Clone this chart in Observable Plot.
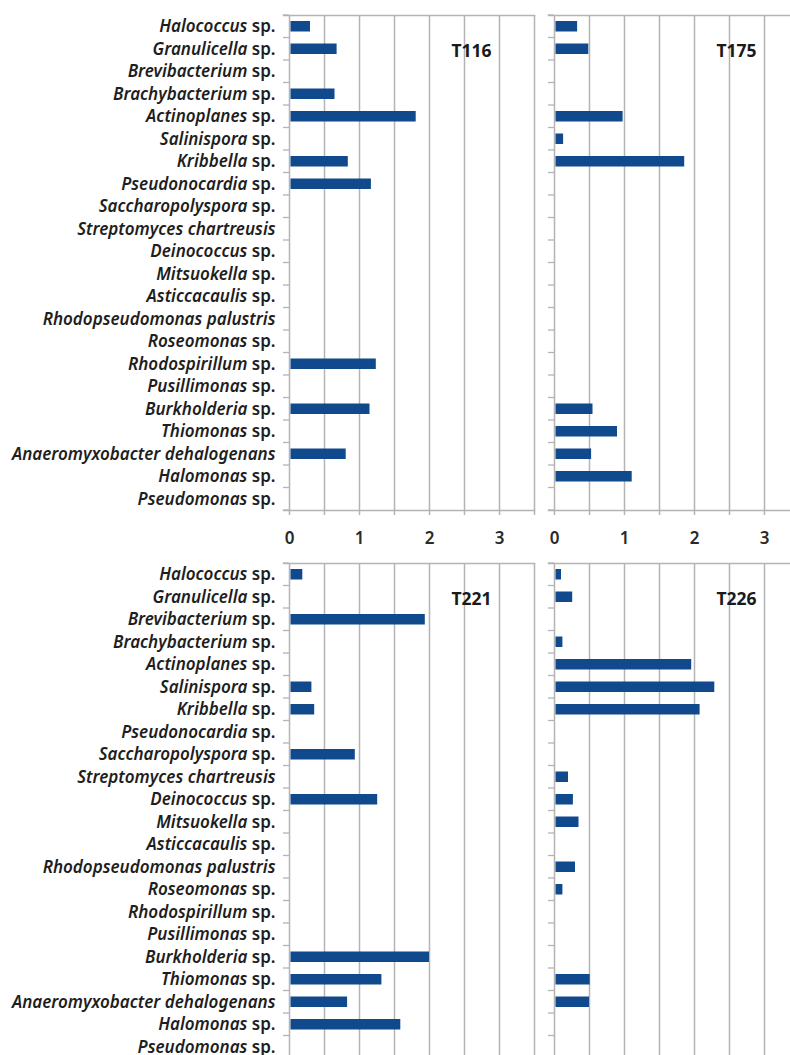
<!DOCTYPE html>
<html>
<head>
<meta charset="utf-8">
<script src="https://cdn.jsdelivr.net/npm/d3@7"></script>
<script src="https://cdn.jsdelivr.net/npm/@observablehq/plot@0.6"></script>
<style>
  html, body { margin: 0; padding: 0; background: #fff; overflow: hidden; }
  #chart { position: relative; width: 790px; height: 1055px; overflow: hidden; }
  #chart svg { position: absolute; overflow: visible; }
</style>
</head>
<body>
<div id="chart"></div>
<script>
// Taxa, listed top to bottom
const species = [
  "Halococcus sp.", "Granulicella sp.", "Brevibacterium sp.", "Brachybacterium sp.",
  "Actinoplanes sp.", "Salinispora sp.", "Kribbella sp.", "Pseudonocardia sp.",
  "Saccharopolyspora sp.", "Streptomyces chartreusis", "Deinococcus sp.", "Mitsuokella sp.",
  "Asticcacaulis sp.", "Rhodopseudomonas palustris", "Roseomonas sp.", "Rhodospirillum sp.",
  "Pusillimonas sp.", "Burkholderia sp.", "Thiomonas sp.", "Anaeromyxobacter dehalogenans",
  "Halomonas sp.", "Pseudomonas sp."
];

// Relative abundance per sample, same order as species
const t116 = [0.30, 0.68, 0, 0.65, 1.81, 0, 0.84, 1.17, 0, 0, 0, 0, 0, 0, 0, 1.24, 0, 1.15, 0, 0.81, 0, 0];
const t175 = [0.33, 0.49, 0, 0, 0.98, 0.13, 1.86, 0, 0, 0, 0, 0, 0, 0, 0, 0, 0, 0.55, 0.90, 0.53, 1.11, 0];
const t221 = [0.19, 0, 1.94, 0, 0, 0.32, 0.36, 0, 0.94, 0, 1.26, 0, 0, 0, 0, 0, 0, 2.00, 1.32, 0.83, 1.59, 0];
const t226 = [0.10, 0.26, 0, 0.12, 1.96, 2.29, 2.08, 0, 0, 0.20, 0.27, 0.35, 0, 0.30, 0.12, 0, 0, 0, 0.51, 0.50, 0, 0];

const xTicks = [0, 0.5, 1, 1.5, 2, 2.5, 3, 3.5];
const xLabelTicks = [0, 1, 2, 3];

// the lower row runs off the bottom of the page, so its value labels are left out
const panels = [
  {name: "T116", values: t116, left: 0,   top: 0,   labels: true,  xLabels: true},
  {name: "T175", values: t175, left: 540, top: 0,   labels: false, xLabels: true},
  {name: "T221", values: t221, left: 0,   top: 548, labels: true,  xLabels: false},
  {name: "T226", values: t226, left: 540, top: 548, labels: false, xLabels: false}
];

const BAR = "#104a8d";
const GRID = "#b4b4b4";
const FONT = "'Noto Sans', sans-serif";

// short ticks on the category boundaries, left of the value axis
function boundaryTicks(index, scales) {
  const g = d3.create("svg:g");
  const x0 = scales.x(0);
  const bw = scales.y.bandwidth ? scales.y.bandwidth() : 0;
  const edges = species.map(s => scales.y(s)).concat([scales.y(species[species.length - 1]) + bw]);
  g.selectAll("line").data(edges).join("line")
    .attr("x1", x0 - 6).attr("x2", x0)
    .attr("y1", d => d).attr("y2", d => d)
    .attr("stroke", GRID).attr("stroke-width", 1.3);
  return g.node();
}

function panel(p) {
  const data = species.map((s, i) => ({species: s, value: p.values[i]}));
  const ml = p.labels ? 289 : 14;
  const plot = Plot.plot({
    width: ml + 245 + 20,
    height: 15 + 495 + 45,
    marginLeft: ml,
    marginRight: 20,
    marginTop: 15,
    marginBottom: 45,
    style: {fontFamily: FONT, background: "transparent"},
    x: {domain: [0, 3.5], axis: null},
    y: {domain: species, padding: 0, round: false, axis: null},
    marks: [
      // grid lines every 0.5, running a few pixels past the bottom edge as ticks
      Plot.gridX(xTicks, {stroke: GRID, strokeOpacity: 1, strokeWidth: 1.5, insetBottom: -5}),
      p.xLabels ? Plot.axisX(xLabelTicks, {
        anchor: "bottom", tickSize: 0, label: null, tickPadding: 21,
        fontSize: 17, fontWeight: 600, fill: "#2a2a2a"
      }) : null,
      Plot.frame({anchor: "top", stroke: GRID, strokeWidth: 1.5, insetLeft: -6}),
      Plot.frame({anchor: "bottom", stroke: GRID, strokeWidth: 1.5, insetLeft: -6}),
      boundaryTicks,
      p.labels ? Plot.axisY({
        tickSize: 0, tickPadding: 14, fontSize: 17, fontWeight: 600, label: null,
        fill: "#1e1e1e", fontStyle: "italic"
      }) : null,
      Plot.barX(data, {y: "species", x: "value", fill: BAR, insetTop: 6, insetBottom: 6, insetLeft: 1.5}),
      Plot.text([p.name], {
        x: () => 2.6, y: () => species[1], text: d => d, dy: 2,
        fontSize: 17.5, fontWeight: 700, fill: "#1a1a1a"
      })
    ]
  });
  plot.style.left = p.left + "px";
  plot.style.top = p.top + "px";

  // genus and species names in italics, the "sp." abbreviation upright
  d3.select(plot).selectAll("[aria-label='y-axis tick label'] text").each(function () {
    const label = this.textContent;
    if (label.endsWith(" sp.")) {
      const t = d3.select(this).text(null);
      t.append("tspan").text(label.slice(0, -4));
      t.append("tspan").attr("font-style", "normal").text(" sp.");
    }
  });
  return plot;
}

const chart = document.getElementById("chart");
panels.forEach(p => chart.appendChild(panel(p)));
</script>
</body>
</html>
